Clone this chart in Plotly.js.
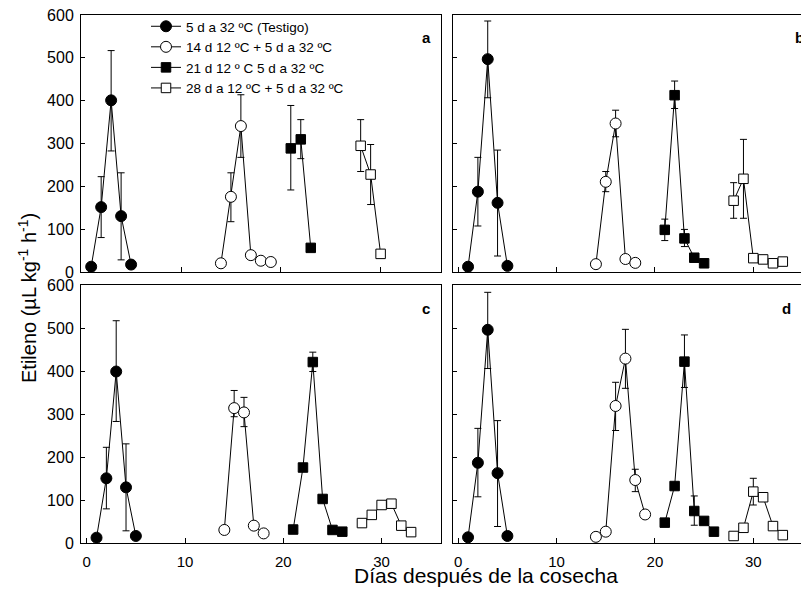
<!DOCTYPE html>
<html>
<head>
<meta charset="utf-8">
<script src="https://cdn.plot.ly/plotly-3.0.1.min.js"></script>
<style>
html, body { margin:0; padding:0; overflow:hidden; background:#fff; }
#chart { width:820px; height:590px; }
</style>
</head>
<body>
<div id="chart"></div>
<script>
// Series names (legend)
const seriesNames = [
  '5 d a 32 ºC (Testigo)',
  '14 d 12 ºC + 5 d a 32 ºC',
  '21 d 12 º C 5 d a 32 ºC',
  '28 d a 12 ºC + 5 d a 32 ºC'
];
const panelLabels = ['a', 'b', 'c', 'd'];
const xTickVals = [0, 10, 20, 30];
const yTickVals = [0, 100, 200, 300, 400, 500, 600];

// ---- Panel a ----
const aX1 = [1, 2, 3, 4, 5];
const aY1 = [13, 152, 401, 131, 18];
const aP1 = [0, 71, 116, 101, 0];
const aM1 = [0, 71, 118, 102, 0];
const aX2 = [14, 15, 16, 17, 18, 19];
const aY2 = [21, 176, 341, 40, 27, 24];
const aP2 = [0, 56, 73, 0, 0, 0];
const aM2 = [0, 58, 73, 0, 0, 0];
const aX3 = [21, 22, 23];
const aY3 = [289, 310, 57];
const aP3 = [100, 46, 0];
const aM3 = [97, 45, 0];
const aX4 = [28, 29, 30];
const aY4 = [295, 228, 43];
const aP4 = [61, 70, 0];
const aM4 = [60, 70, 0];

// ---- Panel b ----
const bX1 = [1, 2, 3, 4, 5];
const bY1 = [13, 188, 497, 162, 15];
const bP1 = [0, 80, 89, 123, 0];
const bM1 = [0, 80, 90, 124, 0];
const bX2 = [14, 15, 16, 17, 18];
const bY2 = [19, 211, 347, 31, 22];
const bP2 = [0, 24, 31, 0, 0];
const bM2 = [0, 23, 31, 0, 0];
const bX3 = [21, 22, 23, 24, 25];
const bY3 = [99, 413, 79, 34, 21];
const bP3 = [25, 33, 21, 0, 0];
const bM3 = [25, 31, 19, 0, 0];
const bX4 = [28, 29, 30, 31, 32, 33];
const bY4 = [167, 218, 33, 30, 21, 25];
const bP4 = [42, 92, 0, 0, 0, 0];
const bM4 = [41, 92, 0, 0, 0, 0];

// ---- Panel c ----
const cX1 = [1, 2, 3, 4, 5];
const cY1 = [13, 151, 399, 130, 17];
const cP1 = [0, 72, 118, 101, 0];
const cM1 = [0, 71, 116, 101, 0];
const cX2 = [14, 15, 16, 17, 18];
const cY2 = [31, 314, 304, 41, 23];
const cP2 = [0, 41, 35, 0, 0];
const cM2 = [0, 20, 33, 0, 0];
const cX3 = [21, 22, 23, 24, 25, 26];
const cY3 = [32, 176, 421, 103, 31, 27];
const cP3 = [0, 0, 23, 0, 0, 0];
const cM3 = [0, 0, 22, 0, 0, 0];
const cX4 = [28, 29, 30, 31, 32, 33];
const cY4 = [47, 66, 89, 92, 41, 26];
const cP4 = [0, 0, 0, 0, 0, 0];
const cM4 = [0, 0, 0, 0, 0, 0];

// ---- Panel d ----
const dX1 = [1, 2, 3, 4, 5];
const dY1 = [14, 187, 496, 163, 17];
const dP1 = [0, 80, 87, 122, 0];
const dM1 = [0, 79, 90, 124, 0];
const dX2 = [14, 15, 16, 17, 18, 19];
const dY2 = [15, 27, 319, 429, 147, 67];
const dP2 = [0, 0, 55, 68, 25, 0];
const dM2 = [0, 0, 57, 69, 27, 0];
const dX3 = [21, 22, 23, 24, 25, 26];
const dY3 = [48, 133, 422, 75, 52, 27];
const dP3 = [0, 0, 62, 35, 0, 0];
const dM3 = [0, 0, 60, 33, 0, 0];
const dX4 = [28, 29, 30, 31, 32, 33];
const dY4 = [17, 36, 120, 107, 40, 19];
const dP4 = [0, 0, 31, 0, 0, 0];
const dM4 = [0, 0, 31, 0, 0, 0];

const W = 820, H = 590;
const FONT = 'Liberation Sans, Arial, sans-serif';

const markerStyles = [
  {symbol: 'circle', size: 11, color: '#000', line: {color: '#000', width: 1}},
  {symbol: 'circle', size: 11, color: '#fff', line: {color: '#000', width: 1}},
  {symbol: 'square', size: 9.5, color: '#000', line: {color: '#000', width: 1}},
  {symbol: 'square', size: 9.5, color: '#fff', line: {color: '#000', width: 1}}
];

const panels = [
  {xa: 'x',  ya: 'y',  data: [[aX1,aY1,aP1,aM1],[aX2,aY2,aP2,aM2],[aX3,aY3,aP3,aM3],[aX4,aY4,aP4,aM4]]},
  {xa: 'x2', ya: 'y2', data: [[bX1,bY1,bP1,bM1],[bX2,bY2,bP2,bM2],[bX3,bY3,bP3,bM3],[bX4,bY4,bP4,bM4]]},
  {xa: 'x3', ya: 'y3', data: [[cX1,cY1,cP1,cM1],[cX2,cY2,cP2,cM2],[cX3,cY3,cP3,cM3],[cX4,cY4,cP4,cM4]]},
  {xa: 'x4', ya: 'y4', data: [[dX1,dY1,dP1,dM1],[dX2,dY2,dP2,dM2],[dX3,dY3,dP3,dM3],[dX4,dY4,dP4,dM4]]}
];

const traces = [];
panels.forEach((p, pi) => {
  p.data.forEach((s, si) => {
    traces.push({
      type: 'scatter', mode: 'lines+markers',
      x: s[0], y: s[1],
      xaxis: p.xa, yaxis: p.ya,
      name: seriesNames[si],
      showlegend: pi === 0,
      cliponaxis: false,
      line: {color: '#000', width: 1},
      marker: markerStyles[si],
      error_y: {type: 'data', symmetric: false, array: s[2], arrayminus: s[3],
                color: '#000', thickness: 1, width: 3.5}
    });
  });
});

function px(a, b) { return [a / W, b / W]; }
function py(top, bottom) { return [1 - bottom / H, 1 - top / H]; }

function xAx(domain, range, labels) {
  return {domain: domain, range: range, tickvals: xTickVals, ticks: 'inside', ticklen: 5,
          tickcolor: '#000', showticklabels: labels, ticklabelstandoff: 5,
          tickfont: {family: FONT, size: 15, color: '#000'},
          showline: true, mirror: true, linecolor: '#000', linewidth: 1,
          showgrid: false, zeroline: false, fixedrange: true};
}
function yAx(domain, labels, anchor) {
  return {domain: domain, range: [0, 600], tickvals: yTickVals, ticks: 'inside', ticklen: 4,
          tickcolor: '#000', showticklabels: labels, ticklabelstandoff: 3, anchor: anchor,
          tickfont: {family: FONT, size: 16, color: '#000'},
          showline: true, mirror: true, linecolor: '#000', linewidth: 1,
          showgrid: false, zeroline: false, fixedrange: true};
}

const topY = py(15, 272.3), botY = py(285, 543.3);
const leftX = px(81, 441), rightX = px(453.3, 813.3);

const layout = {
  width: W, height: H,
  margin: {l: 0, r: 0, t: 0, b: 0},
  paper_bgcolor: '#fff', plot_bgcolor: '#fff',
  font: {family: FONT, color: '#000'},
  showlegend: true,
  legend: {x: 146 / W, y: 1 - 11 / H, xanchor: 'left', yanchor: 'top',
           bgcolor: 'rgba(0,0,0,0)', borderwidth: 0,
           font: {family: FONT, size: 13.5, color: '#000'}, itemwidth: 30, tracegroupgap: 0},
  xaxis:  Object.assign(xAx(leftX,  [-0.02, 36.05], false), {anchor: 'y'}),
  yaxis:  yAx(topY, true, 'x'),
  xaxis2: Object.assign(xAx(rightX, [-0.5, 36.1], false), {anchor: 'y2'}),
  yaxis2: yAx(topY, false, 'x2'),
  xaxis3: Object.assign(xAx(leftX,  [-0.58, 36.04], true), {anchor: 'y3'}),
  yaxis3: yAx(botY, true, 'x3'),
  xaxis4: Object.assign(xAx(rightX, [-0.5, 36.1], true), {anchor: 'y4'}),
  yaxis4: yAx(botY, false, 'x4'),
  annotations: [
    {text: panelLabels[0], xref: 'paper', yref: 'paper', x: 426 / W, y: 1 - 37 / H, showarrow: false,
     font: {family: FONT, size: 15, color: '#000', weight: 'bold'}, xanchor: 'center', yanchor: 'middle'},
    {text: panelLabels[1], xref: 'paper', yref: 'paper', x: 799 / W, y: 1 - 37 / H, showarrow: false,
     font: {family: FONT, size: 15, color: '#000', weight: 'bold'}, xanchor: 'center', yanchor: 'middle'},
    {text: panelLabels[2], xref: 'paper', yref: 'paper', x: 426 / W, y: 1 - 308 / H, showarrow: false,
     font: {family: FONT, size: 15, color: '#000', weight: 'bold'}, xanchor: 'center', yanchor: 'middle'},
    {text: panelLabels[3], xref: 'paper', yref: 'paper', x: 786 / W, y: 1 - 308 / H, showarrow: false,
     font: {family: FONT, size: 15, color: '#000', weight: 'bold'}, xanchor: 'center', yanchor: 'middle'},
    {text: 'Etileno (µL kg<sup>-1</sup> h<sup>-1</sup>)', xref: 'paper', yref: 'paper',
     x: 27 / W, y: 1 - 298 / H, showarrow: false, textangle: -90,
     font: {family: FONT, size: 20, color: '#000'}, xanchor: 'center', yanchor: 'middle'},
    {text: 'Días después de la cosecha', xref: 'paper', yref: 'paper',
     x: 486 / W, y: 1 - 575 / H, showarrow: false,
     font: {family: FONT, size: 21, color: '#000'}, xanchor: 'center', yanchor: 'middle'}
  ]
};

Plotly.newPlot('chart', traces, layout, {displayModeBar: false, staticPlot: true});
</script>
</body>
</html>
